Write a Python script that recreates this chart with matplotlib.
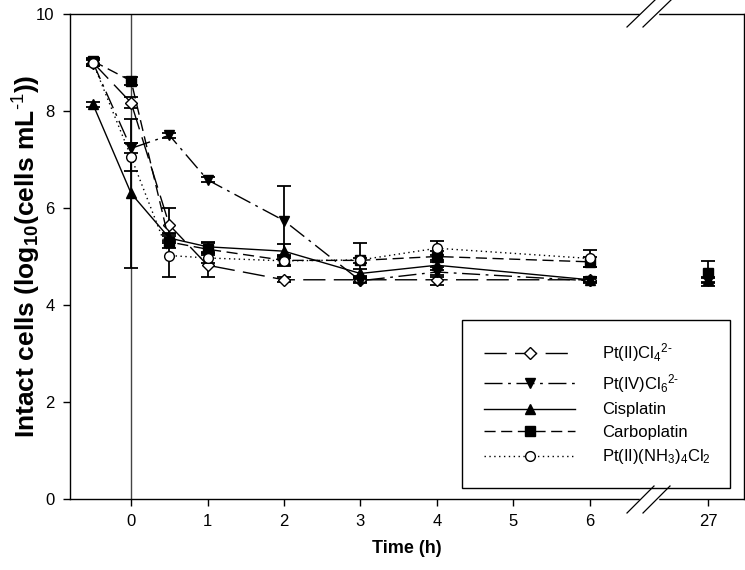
import numpy as np
import matplotlib
matplotlib.use("Agg")
import matplotlib.pyplot as plt
from matplotlib.lines import Line2D

plt.rcParams['font.family'] = ['Liberation Sans', 'DejaVu Sans']
plt.rcParams['mathtext.fontset'] = 'custom'
plt.rcParams['mathtext.rm'] = 'Liberation Sans'
plt.rcParams['mathtext.it'] = 'Liberation Sans'
plt.rcParams['mathtext.bf'] = 'Liberation Sans:bold'
plt.rcParams['mathtext.default'] = 'regular'

nan = np.nan
times = [-0.5, 0, 0.5, 1, 2, 3, 4, 6, 27]
tick_vals = [0, 1, 2, 3, 4, 5, 6, 27]
tick_labels = ['0', '1', '2', '3', '4', '5', '6', '27']

ptcl4 = [9.00, 8.17, 5.65, 4.82, 4.52, 4.52, 4.52, 4.52, nan]
ptcl4_err = [0.07, 0.11, 0.34, 0.25, 0.05, 0.05, 0.10, 0.05, nan]
ptcl6 = [9.00, 7.23, 7.50, 6.58, 5.74, 4.50, 4.68, 4.50, 4.50]
ptcl6_err = [0.05, 0.10, 0.05, 0.05, 0.71, 0.05, 0.10, 0.05, 0.05]
cisplatin = [8.14, 6.30, 5.38, 5.20, 5.11, 4.65, 4.82, 4.52, 4.52]
cisplatin_err = [0.05, 1.53, 0.10, 0.10, 0.14, 0.10, 0.10, 0.05, 0.05]
carboplatin = [9.03, 8.62, 5.30, 5.15, 4.92, 4.92, 5.00, 4.89, 4.65]
carboplatin_err = [0.06, 0.08, 0.12, 0.12, 0.10, 0.05, 0.12, 0.10, 0.25]
ptnh3 = [9.00, 7.05, 5.02, 4.97, 4.91, 4.93, 5.17, 4.96, nan]
ptnh3_err = [0.08, 0.29, 0.45, 0.10, 0.10, 0.34, 0.14, 0.18, nan]

labels = [r'Pt(II)Cl$_4$$^{\text{2-}}$', r'Pt(IV)Cl$_6$$^{\text{2-}}$', 'Cisplatin',
          'Carboplatin', r'Pt(II)(NH$_3$)$_4$Cl$_2$']

# broken axis: hours 0-6 linear, then compressed gap up to 27
def fwd(t):
    t = np.asarray(t, dtype=float)
    return np.where(t <= 6, t, 6 + (t - 6) * 1.55 / 21.0)

def inv(p):
    p = np.asarray(p, dtype=float)
    return np.where(p <= 6, p, 6 + (p - 6) * 21.0 / 1.55)

W, H = 745, 570
fig = plt.figure(figsize=(W / 100, H / 100), dpi=100)
L, R, T, B = 70, 744, 14, 499
ax = fig.add_axes([L / W, 1 - B / H, (R - L) / W, (B - T) / H])
ax.set_xscale('function', functions=(fwd, inv))
ax.set_xlim(-0.8, float(inv(8.02)))
ax.set_ylim(0, 10)

styles = [
    dict(dashes=(16, 6), marker='D', mfc='white', ms=6.5),
    dict(dashes=(13, 4, 2, 4), marker='v', mfc='black', ms=7.5),
    dict(linestyle='-', marker='^', mfc='black', ms=7.5),
    dict(dashes=(8, 4), marker='s', mfc='black', ms=6.5),
    dict(dashes=(1, 2.5), marker='o', mfc='white', ms=7),
]
series = [(ptcl4, ptcl4_err), (ptcl6, ptcl6_err), (cisplatin, cisplatin_err),
          (carboplatin, carboplatin_err), (ptnh3, ptnh3_err)]

t = np.array(times)
handles = []
ax.axvline(0, color='#444444', lw=1.0, zorder=1)
for i, ((vals, errs), st) in enumerate(zip(series, styles)):
    v = np.array(vals)
    e = np.array(errs)
    ax.errorbar(t, v, yerr=e, fmt='none', ecolor='black', elinewidth=1.3,
                capsize=5, capthick=1.3, zorder=2 + i)
    seg = t <= 6
    kw = dict(st)
    mk = dict(marker=kw.pop('marker'), mfc=kw.pop('mfc'), ms=kw.pop('ms'),
              mec='black', mew=1.0)
    h, = ax.plot(t[seg], v[seg], color='black', lw=1.0, zorder=3 + i,
                 label=labels[i], **kw, **mk)
    ax.plot(t[~seg], v[~seg], linestyle='none', zorder=3 + i, **mk)
    handles.append(h)

ax.set_xticks(tick_vals)
ax.set_xticklabels(tick_labels)
ax.set_yticks([0, 2, 4, 6, 8, 10])
ax.minorticks_off()
ax.tick_params(axis='both', direction='out', length=5, width=1, labelsize=12, pad=6)
for s in ax.spines.values():
    s.set_linewidth(1.0)

ax.set_xlabel('Time (h)', fontsize=13, fontweight='bold', labelpad=8)
ax.set_ylabel(r'Intact cells (log$_{10}$(cells mL$^{\text{-1}}$))', fontsize=19,
              fontweight='bold')
ax.yaxis.set_label_coords(-0.04, 0.5)

leg = ax.legend(handles=handles, loc='lower left',
                bbox_to_anchor=((462 - L) / (R - L), (B - 488) / (B - T),
                                (730 - 462) / (R - L), 0.3),
                mode='expand', fontsize=12, frameon=True, fancybox=False,
                edgecolor='black', framealpha=1, handlelength=5.5,
                handletextpad=1.6, borderpad=1.3, labelspacing=0.45,
                borderaxespad=0, numpoints=1)
leg.get_frame().set_linewidth(1.0)
leg.set_zorder(20)

# axis break marks (figure pixel geometry)
def fx(px):
    return px / W

def fy(py):
    return 1 - py / H

for (ya, yb, ys, xs) in [(0, 27, 14, [(627, 655), (643, 671)]),
                         (486, 513, 499, [(627, 654), (643, 670)])]:
    xm0 = (xs[0][0] + xs[0][1]) / 2
    xm1 = (xs[1][0] + xs[1][1]) / 2
    fig.add_artist(Line2D([fx(xm0), fx(xm1)], [fy(ys), fy(ys)], color='white',
                          lw=2.5, zorder=30))
    for (x0, x1) in xs:
        fig.add_artist(Line2D([fx(x0), fx(x1)], [fy(yb), fy(ya)], color='black',
                              lw=0.9, zorder=31))

fig.savefig('out.png', dpi=100)
